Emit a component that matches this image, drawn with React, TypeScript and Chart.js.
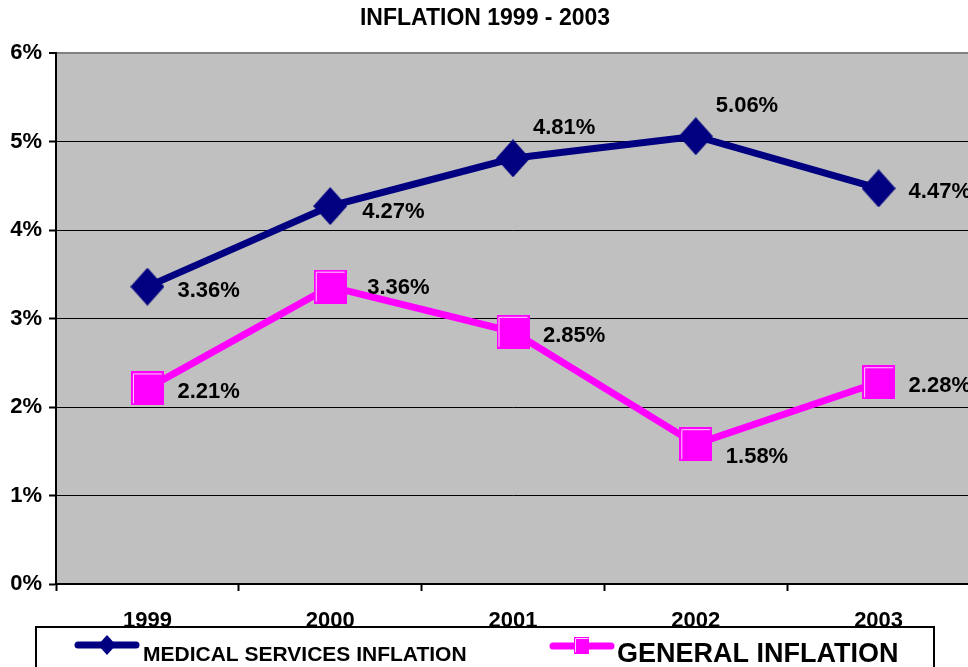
import React, { useEffect, useRef } from 'react';
import { Chart, registerables } from 'chart.js';

Chart.register(...registerables);

// ---- data ----
const years = ['1999', '2000', '2001', '2002', '2003'];
const medicalInflation = [3.36, 4.27, 4.81, 5.06, 4.47];
const generalInflation = [2.21, 3.36, 2.85, 1.58, 2.28];
const yTickMin = 0;
const yTickMax = 6;
const yTickStep = 1;
const chartTitle = 'INFLATION 1999 - 2003';
const medicalName = 'MEDICAL SERVICES INFLATION';
const generalName = 'GENERAL INFLATION';

// ---- styling ----
const FONT = '"Liberation Sans", Arial, Helvetica, sans-serif';
const NAVY = '#000080';
const MAGENTA = '#FF00FF';
const PLOT_BG = '#C0C0C0';
const medicalPlacement = ['right', 'rightLow', 'above', 'above', 'right'];
const generalPlacement = ['right', 'rightFar', 'right', 'below', 'right'];
const placementOffsets: Record<string, [number, number]> = {
  right: [30, 4],
  rightLow: [32, 6],
  rightFar: [37, 1],
  above: [20, -30],
  below: [30, 13],
};

function makeDiamond(w: number, h: number, color: string) {
  const c = document.createElement('canvas');
  c.width = w;
  c.height = h;
  const g = c.getContext('2d')!;
  g.fillStyle = color;
  g.beginPath();
  g.moveTo(0, h / 2);
  g.lineTo(w / 2, 0);
  g.lineTo(w, h / 2);
  g.lineTo(w / 2, h);
  g.closePath();
  g.fill();
  return c;
}

function makeSquare(w: number, h: number, color: string) {
  const c = document.createElement('canvas');
  c.width = w;
  c.height = h;
  const g = c.getContext('2d')!;
  g.fillStyle = color;
  g.fillRect(0, 0, w, h);
  g.strokeStyle = '#FFD0FF';
  g.lineWidth = 1;
  g.beginPath();
  g.moveTo(2.5, h - 2);
  g.lineTo(2.5, 2.5);
  g.lineTo(w - 2, 2.5);
  g.stroke();
  return c;
}

const plotBgPlugin = {
  id: 'plotBg',
  beforeDraw(chart: any) {
    const { ctx, chartArea } = chart;
    ctx.save();
    ctx.fillStyle = PLOT_BG;
    ctx.fillRect(chartArea.left, chartArea.top, chartArea.right - chartArea.left, chartArea.bottom - chartArea.top);
    ctx.restore();
  },
};

const dataLabelPlugin = {
  id: 'dataLabels',
  afterDatasetsDraw(chart: any) {
    const { ctx } = chart;
    const placements = [medicalPlacement, generalPlacement];
    ctx.save();
    ctx.font = `bold 22px ${FONT}`;
    ctx.fillStyle = '#000';
    ctx.textAlign = 'left';
    ctx.textBaseline = 'middle';
    chart.data.datasets.forEach((ds: any, di: number) => {
      const meta = chart.getDatasetMeta(di);
      meta.data.forEach((pt: any, i: number) => {
        const [dx, dy] = placementOffsets[placements[di][i]];
        ctx.fillText(ds.data[i].toFixed(2) + '%', pt.x + dx, pt.y + dy);
      });
    });
    ctx.restore();
  },
};

const titleLegendPlugin = {
  id: 'titleLegend',
  afterDraw(chart: any) {
    const { ctx } = chart;
    ctx.save();
    // title
    ctx.font = `bold 23px ${FONT}`;
    ctx.fillStyle = '#000';
    ctx.textAlign = 'center';
    ctx.textBaseline = 'middle';
    ctx.fillText(chartTitle, 485, 19);

    // legend box
    ctx.fillStyle = '#fff';
    ctx.fillRect(36, 627, 898, 60);
    ctx.strokeStyle = '#000';
    ctx.lineWidth = 2;
    ctx.strokeRect(36, 627, 898, 60);

    // medical item
    ctx.lineCap = 'round';
    ctx.lineWidth = 7;
    ctx.strokeStyle = NAVY;
    ctx.beginPath();
    ctx.moveTo(78, 645);
    ctx.lineTo(136, 645);
    ctx.stroke();
    ctx.fillStyle = NAVY;
    ctx.beginPath();
    ctx.moveTo(98, 645);
    ctx.lineTo(107, 635);
    ctx.lineTo(116, 645);
    ctx.lineTo(107, 655);
    ctx.closePath();
    ctx.fill();
    ctx.fillStyle = '#000';
    ctx.textAlign = 'left';
    ctx.textBaseline = 'alphabetic';
    ctx.font = `bold 21px ${FONT}`;
    ctx.fillText(medicalName, 143, 661);

    // general item
    ctx.strokeStyle = MAGENTA;
    ctx.beginPath();
    ctx.moveTo(553, 646);
    ctx.lineTo(611, 646);
    ctx.stroke();
    ctx.fillStyle = MAGENTA;
    ctx.fillRect(574, 637, 15, 17);
    ctx.strokeStyle = '#FFD0FF';
    ctx.lineWidth = 1;
    ctx.beginPath();
    ctx.moveTo(575.5, 652);
    ctx.lineTo(575.5, 638.5);
    ctx.lineTo(588, 638.5);
    ctx.stroke();
    ctx.fillStyle = '#000';
    ctx.font = `bold 27px ${FONT}`;
    ctx.fillText(generalName, 617, 662);
    ctx.restore();
  },
};

export default function App() {
  const canvasRef = useRef<HTMLCanvasElement | null>(null);

  useEffect(() => {
    if (!canvasRef.current) return;
    const diamond = makeDiamond(34, 38, NAVY);
    const square = makeSquare(33, 34, MAGENTA);
    const chart = new Chart(canvasRef.current, {
      type: 'line',
      data: {
        labels: years,
        datasets: [
          {
            label: medicalName,
            data: medicalInflation,
            borderColor: NAVY,
            backgroundColor: NAVY,
            borderWidth: 7,
            pointStyle: diamond as any,
            pointRadius: 17,
            tension: 0,
          },
          {
            label: generalName,
            data: generalInflation,
            borderColor: MAGENTA,
            backgroundColor: MAGENTA,
            borderWidth: 7,
            pointStyle: square as any,
            pointRadius: 17,
            tension: 0,
          },
        ],
      },
      options: {
        responsive: false,
        animation: false,
        events: [],
        layout: { padding: { top: 53, left: 0, right: 0, bottom: 0 }, autoPadding: false },
        plugins: {
          legend: { display: false },
          title: { display: false },
          tooltip: { enabled: false },
        },
        scales: {
          x: {
            type: 'category',
            offset: true,
            grid: {
              display: true,
              drawOnChartArea: false,
              drawTicks: true,
              offset: true,
              tickLength: 7,
              tickWidth: 2,
              tickColor: '#000',
              color: '#000',
            },
            border: { display: true, color: '#000', width: 2 },
            ticks: {
              color: '#000',
              font: { family: FONT, size: 22, weight: 'bold' },
              padding: 17,
              maxRotation: 0,
            },
            afterFit: (s: any) => {
              s.height = 83;
            },
          },
          y: {
            min: yTickMin,
            max: yTickMax,
            grid: {
              color: (c: any) => (c.tick && c.tick.value === yTickMax ? '#808080' : '#000'),
              lineWidth: (c: any) => (c.tick && c.tick.value === yTickMax ? 2 : 1),
              tickLength: 7,
              tickWidth: 2,
              tickColor: '#000',
            },
            border: { display: true, color: '#000', width: 2 },
            ticks: {
              stepSize: yTickStep,
              color: '#000',
              font: { family: FONT, size: 22, weight: 'bold' },
              padding: 7,
              callback: (v: any) => v + '%',
            },
            afterFit: (s: any) => {
              s.width = 56;
            },
          },
        },
      },
      plugins: [plotBgPlugin, dataLabelPlugin, titleLegendPlugin],
    });
    return () => chart.destroy();
  }, []);

  return (
    <div
      style={{
        position: 'fixed',
        left: 0,
        top: 0,
        width: 968,
        height: 667,
        overflow: 'hidden',
        background: '#fff',
      }}
    >
      <canvas ref={canvasRef} width={970} height={667} style={{ display: 'block' }} />
    </div>
  );
}
